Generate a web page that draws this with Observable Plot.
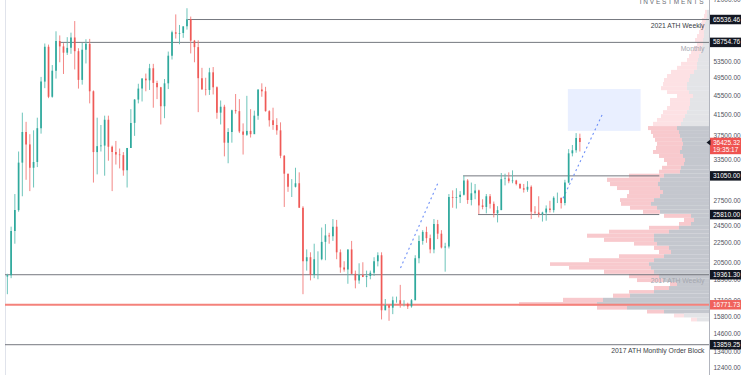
<!DOCTYPE html>
<html><head><meta charset="utf-8">
<script src="https://cdn.jsdelivr.net/npm/d3@7"></script>
<script src="https://cdn.jsdelivr.net/npm/@observablehq/plot@0.6"></script>
<style>
html,body{margin:0;padding:0;background:#fff;}
#wrap{position:relative;width:750px;height:375px;overflow:hidden;font-family:"Liberation Sans",Arial,sans-serif;}
#wrap svg{position:absolute;left:0;top:0;}
</style></head><body><div id="wrap"></div>
<script>
// ---- weekly BTC/USD candles (thousand USD), weeks starting Monday 2020-12-07 .. 2023-11-13
const weekStart = d3.utcMonday.range(new Date("2020-12-07"), new Date("2023-11-14"));
const open = [19.15,19.27,23.8,26.3, 33.0,38.2,36.0,32.2, 33.1,38.9,48.6,57.4, 45.2,51.2,59.0,57.5,55.8, 57.1,60.0,56.2,49.0, 56.6,58.2,46.4,34.7,35.7, 35.8,40.5,35.6,34.7, 34.3,34.2,31.8,35.4, 39.9,44.6,47.0,49.3,48.9, 51.8,48.3,47.3,43.2, 48.2,55.0,61.5,61.1, 61.3,63.3,65.5,59.1,57.3, 49.4,46.8,46.7,50.8,
 47.3,41.9,43.1,36.3,38.2, 42.4,42.2,38.3,37.7, 38.4,37.8,41.3,46.8, 46.4,42.2,40.4,39.5, 38.5,34.1,31.3,29.4,29.4, 29.9,26.6,20.6,21.0, 19.3,20.8,20.8,22.6, 23.3,23.2,24.3,21.5,20.0, 19.8,21.8,19.4,18.8, 19.3,19.1,19.2,19.5,20.6, 21.2,16.3,16.7,16.5, 17.1,17.1,16.8,16.8,
 16.6,17.1,20.9,22.7,23.7, 23.0,21.8,24.6,23.5, 22.0,22.1,28.0,27.9, 28.0,28.3,30.3,27.6, 28.5,28.9,26.9,26.7,28.1, 27.1,25.9,26.3,30.5, 30.6,30.2,30.3,29.8,29.2, 29.0,29.4,26.1,26.0, 25.8,26.0,26.5,26.3, 27.9,27.9,27.2,30.0,34.5, 35.0,37.1];
const high = [19.4,24.3,28.4,34.8, 41.9,40.1,37.8,38.5, 40.9,49.7,58.3,58.0, 52.6,61.8,60.6,58.4,60.1, 61.4,64.9,57.0,58.5, 59.5,59.6,46.6,40.9,39.5, 41.3,41.3,35.8,36.6, 35.3,34.7,35.4,42.6, 44.7,48.1,49.4,50.5,52.9, 52.9,48.8,47.4,49.2, 56.1,62.0,67.0,63.7, 63.2,69.0,66.3,59.3,59.2, 51.9,49.5,51.9,52.1,
 47.5,44.4,43.5,38.9,42.5, 45.8,44.7,39.8,45.4, 42.6,42.3,46.8,48.2, 47.4,42.4,42.9,40.8, 40.0,34.2,31.3,30.5,32.2, 31.5,26.8,21.8,21.5, 22.4,21.6,24.2,24.6, 23.6,25.2,25.1,21.8,20.6, 21.8,22.7,19.7,20.4, 20.5,19.7,19.7,21.0,21.5, 21.5,17.2,16.8,17.4, 17.4,18.4,17.1,16.9,
 17.2,21.2,23.3,23.9,24.3, 23.4,25.2,25.1,23.9, 22.5,28.4,28.9,29.2, 28.8,31.0,30.5,30.0, 29.8,29.0,27.7,28.4,28.4, 27.4,26.8,31.4,31.3, 31.5,31.8,30.4,29.9,29.8, 30.2,29.6,26.8,28.1, 26.1,26.9,27.5,28.1, 28.6,27.9,30.4,35.2,35.9, 38.0,37.9];
const low = [17.6,19.0,22.4,26.1, 28.1,30.4,28.8,29.3, 32.3,37.9,47.1,44.9, 45.0,49.3,53.3,50.4,55.2, 55.5,51.5,47.0,47.9, 53.0,43.8,30.0,31.2,34.8, 31.0,33.3,28.8,32.7, 32.1,31.0,29.3,35.4, 37.5,43.8,44.2,46.4,46.7, 42.9,44.7,39.6,40.8, 46.9,54.0,59.7,58.1, 59.9,62.3,55.6,53.3,42.0, 46.8,45.5,45.6,45.7,
 40.7,39.6,34.0,32.9,36.3, 41.7,38.0,34.3,37.5, 37.2,38.2,40.5,45.2, 42.1,39.2,38.6,37.7, 33.7,26.7,28.7,28.0,29.3, 26.6,17.6,19.7,18.8, 19.0,18.9,20.7,20.7, 22.4,22.7,20.8,19.5,19.6, 18.5,19.4,18.1,18.5, 19.3,18.2,18.9,19.2,20.1, 15.6,16.3,15.5,16.0, 16.9,16.5,16.6,16.4,
 16.5,17.1,20.4,22.3,22.5, 21.4,21.4,22.9,21.9, 19.6,21.9,26.6,26.5, 27.2,28.2,27.1,26.9, 27.7,25.8,26.4,25.9,26.5, 25.4,24.8,26.3,29.6, 29.9,29.9,29.6,29.1,28.6, 28.7,25.2,25.8,25.4, 24.9,25.0,26.0,26.0, 27.2,26.5,26.9,29.9,34.0, 34.6,34.8];
const close = [19.27,23.8,26.3,33.0, 38.2,36.0,32.2,33.1, 38.9,48.6,57.4,45.2, 51.2,59.0,57.5,55.8,57.1, 60.0,56.2,49.0,56.6, 58.2,46.4,34.7,35.7,35.8, 40.5,35.6,34.7,34.3, 34.2,31.8,35.4,39.9, 44.6,47.0,49.3,48.9,51.8, 48.3,47.3,43.2,48.2, 55.0,61.5,61.1,61.3, 63.3,65.5,59.1,57.3,49.4, 46.8,46.7,50.8,47.3,
 41.9,43.1,36.3,38.2,42.4, 42.2,38.3,37.7,38.4, 37.8,41.3,46.8,46.4, 42.2,40.4,39.5,38.5, 34.1,31.3,29.4,29.4,29.9, 26.6,20.6,21.0,19.3, 20.8,20.8,22.6,23.3, 23.2,24.3,21.5,20.0,19.8, 21.8,19.4,18.8,19.3, 19.1,19.2,19.5,20.6,21.2, 16.3,16.7,16.5,17.1, 17.1,16.8,16.8,16.6,
 17.1,20.9,22.7,23.7,23.0, 21.8,24.6,23.5,22.0, 22.1,28.0,27.9,28.0, 28.3,30.3,27.6,28.5, 28.9,26.9,26.7,28.1,27.1, 25.9,26.3,30.5,30.6, 30.2,30.3,29.8,29.2,29.0, 29.4,26.1,26.0,25.8, 26.0,26.5,26.3,27.9, 27.9,27.2,30.0,34.5,35.0, 37.1,36.43];

// ---- visible range volume profile rows (price in thousand USD, volume in arbitrary units)
const profPrice = [67.8,66.5,65.2,64.0,62.8,61.6,60.4,59.3,58.2,57.1,56.0,54.9,53.9,52.9,51.9,50.9,49.9,49.0,48.0,47.1,46.2,45.4,44.5,43.7,42.8,42.0,41.2,40.5,39.7,38.9,38.2,37.5,36.8,36.1,35.4,34.7,34.1,33.4,32.8,32.2,31.6,31.0,30.4,29.8,29.2,28.7,28.1,27.6,27.1,26.6,26.1,25.6,25.1,24.6,24.2,23.7,23.3,22.8,22.4,22.0,21.5,21.1,20.7,20.3,20.0,19.6,19.2,18.8,18.5,18.1,17.8,17.5,17.1,16.8,16.5,16.2,15.9,15.6];
const profTotal = [4,5,7,8,9,10,12,14,12,15, 18,20,22,28,32,38,42,45,46,48, 42,32,39,39,42,46,48,52,56,61, 58,56,54,52,53,56,50,45,42,47, 50,80,102,99,92,80,82,89,88,79, 66,45,25,30,60,100,122,105,75,55, 50,90,120,159,140,105,80,72,39,55, 80,96,146,190,112,62,35,18];
const profGray = [2,2,3,4,4,5,5,6,6,7, 8,10,11,12,12,15,19,20,22,22, 20,16,19,19,20,22,24,26,28,32, 30,29,27,26,27,29,26,24,25,28, 29,45,49,51,49,46,49,55,58,52, 49,18,15,18,30,40,55,55,52,40, 38,45,55,60,58,55,50,46,32,40, 55,79,106,112,82,45,25,12];
const valueAreaTop = 38.9, valueAreaBottom = 16.0;

// ---- levels & annotations
const levelValue = [65536.46, 58754.76, 31050.00, 25810.00, 19361.30, 16771.73, 13859.25];
const levelFrom  = ["2021-11-14","2021-03-20","2023-04-13","2023-05-11","2020-12-07","2020-12-07","2020-12-07"];
const levelTo    = ["2024-07-16","2024-07-16","2024-04-14","2024-04-14","2024-07-16","2024-07-16","2024-07-16"];
const levelNote  = ["2021 ATH Weekly","Monthly","","","2017 ATH Weekly","","2017 ATH Monthly Order Block"];
const lastPrice = 36425.32, countdown = "19:35:17";
const tickValues = [72000,53500,49500,45500,41500,37500,33500,27500,24500,22500,20500,18900,17100,15800,14600,13400,12400];
const targetBox = {from:"2023-10-26", to:"2024-03-10", lo:38400, hi:46900};
const projFrom = ["2022-12-16","2023-10-16"], projFromP = [20000,27900];
const projTo   = ["2023-02-25","2023-12-30"], projToP   = [30200,42000];

// ---- build tables
const candles = weekStart.map((t,i)=>({t: d3.utcHour.offset(t,84), o:open[i]*1000, h:high[i]*1000, l:low[i]*1000, c:close[i]*1000}));
const up = candles.filter(d=>d.c>=d.o), dn = candles.filter(d=>d.c<d.o);
const n = profPrice.length;
const rows = profPrice.map((p,i)=>{
  const hi = i>0 ? Math.sqrt(p*profPrice[i-1]) : p*Math.sqrt(p/profPrice[i+1]);
  const lo = i<n-1 ? Math.sqrt(p*profPrice[i+1]) : p*Math.sqrt(p/profPrice[i-1]);
  return {hi:hi*1000, lo:lo*1000, total:profTotal[i], gray:profGray[i], va: p<=valueAreaTop && p>=valueAreaBottom};
});
const levels = levelValue.map((v,i)=>({v, from:new Date(levelFrom[i]), to:new Date(levelTo[i]), note:levelNote[i], red: v===16771.73}));
const projs = projFrom.map((d,i)=>({x1:new Date(d), y1:projFromP[i], x2:new Date(projTo[i]), y2:projToP[i]}));

const W=750, H=375, yDomain=[11963,71770];
const xDomain=[new Date("2020-12-07"), new Date("2024-07-16")];
const font = '"Liberation Sans", Arial, sans-serif';
const boxSym = (w,h)=>({draw(ctx){ctx.moveTo(-w/2,-h/2);ctx.lineTo(w/2,-h/2);ctx.lineTo(w/2,h/2);ctx.lineTo(-w/2,h/2);ctx.closePath();}});
const triSym = {draw(ctx){ctx.moveTo(-3,0);ctx.lineTo(1,-3);ctx.lineTo(1,3);ctx.closePath();}};

// profile (background layer)
const prof = Plot.plot({
  width:W, height:H, marginLeft:0, marginRight:41, marginTop:0, marginBottom:0,
  style:{background:"#fff", fontFamily:font},
  x:{domain:[709,0], axis:null},
  y:{type:"log", domain:yDomain, axis:null},
  marks:[
    Plot.rect(rows.filter(d=>d.va), {x1:d=>d.gray, x2:"total", y1:"lo", y2:"hi", fill:"#f8c9cd"}),
    Plot.rect(rows.filter(d=>!d.va), {x1:d=>d.gray, x2:"total", y1:"lo", y2:"hi", fill:"#fde1e4"}),
    Plot.rect(rows.filter(d=>d.va), {x1:0, x2:"gray", y1:"lo", y2:"hi", fill:"#c4c7ce"}),
    Plot.rect(rows.filter(d=>!d.va), {x1:0, x2:"gray", y1:"lo", y2:"hi", fill:"#e3e4e7"})
  ]
});

const main = Plot.plot({
  width:W, height:H, marginLeft:5, marginRight:41, marginTop:0, marginBottom:0,
  style:{background:"transparent", fontFamily:font, overflow:"visible"},
  x:{type:"utc", domain:xDomain, axis:null},
  y:{type:"log", domain:yDomain, axis:null},
  marks:[
    Plot.ruleX([xDomain[0]], {stroke:"#e0e3eb", strokeWidth:1}),
    Plot.rect([targetBox], {x1:d=>new Date(d.from), x2:d=>new Date(d.to), y1:"lo", y2:"hi", fill:"#2962ff", fillOpacity:0.1}),
    Plot.ruleY(levels.filter(d=>!d.red), {y:"v", x1:"from", x2:"to", stroke:"#75787f", strokeWidth:1}),
    Plot.ruleY(levels.filter(d=>d.red), {y:"v", x1:"from", x2:"to", stroke:"#f4827b", strokeWidth:2}),
    Plot.text(levels.filter(d=>d.note && (d.v>60000 || d.v<15000)), {y:"v", text:"note", frameAnchor:"right", dx:-5, dy:6.5, textAnchor:"end", fill:"#3a3d45", fontSize:6.8}),
    Plot.text(levels.filter(d=>d.note && d.v<60000 && d.v>15000), {y:"v", text:"note", frameAnchor:"right", dx:-5, dy:6.5, textAnchor:"end", fill:"#a4a7ae", fontSize:6.8}),
    Plot.link(projs, {x1:"x1", y1:"y1", x2:"x2", y2:"y2", stroke:"#6d8ff7", strokeWidth:1.1, strokeDasharray:"2,3"}),
    Plot.ruleX(up, {x:"t", y1:"l", y2:"h", stroke:"#5cbdb2", strokeWidth:0.9}),
    Plot.ruleX(dn, {x:"t", y1:"l", y2:"h", stroke:"#f27a78", strokeWidth:0.9}),
    Plot.ruleX(up, {x:"t", y1:"o", y2:"c", stroke:"#2fa99d", strokeWidth:1.7}),
    Plot.ruleX(dn, {x:"t", y1:"o", y2:"c", stroke:"#ef5a57", strokeWidth:1.7}),
    Plot.ruleX([xDomain[1]], {stroke:"#b2b5be", strokeWidth:1}),
    Plot.axisY(tickValues, {anchor:"right", tickSize:0, tickPadding:4, tickFormat:d=>d.toFixed(2), fontSize:6.5, color:"#50535e", label:null}),
    Plot.dot(levels.filter(d=>!d.red), {y:"v", frameAnchor:"right", dx:16, symbol:boxSym(31,9.5), fill:"#131722", r:3}),
    Plot.dot(levels.filter(d=>d.red), {y:"v", frameAnchor:"right", dx:16, symbol:boxSym(31,9.5), fill:"#f0625c", r:3}),
    Plot.text(levels, {y:"v", text:d=>d.v.toFixed(2), frameAnchor:"right", dx:3.5, textAnchor:"start", fill:"#fff", fontSize:6.5}),
    Plot.dot([lastPrice], {y:d=>d, frameAnchor:"right", dx:16, dy:3.5, symbol:boxSym(31,16.5), fill:"#ef5350", r:3}),
    Plot.dot([lastPrice], {y:d=>d, frameAnchor:"right", dx:0, symbol:triSym, fill:"#131722", r:3}),
    Plot.text([lastPrice], {y:d=>d, text:d=>d.toFixed(2), frameAnchor:"right", dx:3.5, textAnchor:"start", fill:"#fff", fontSize:6.5}),
    Plot.text([lastPrice], {y:d=>d, text:()=>countdown, frameAnchor:"right", dx:3.5, dy:7.5, textAnchor:"start", fill:"#fff", fontSize:6.5}),
    Plot.text(["I N V E S T M E N T S"], {frameAnchor:"top-right", dx:-6, dy:3, lineAnchor:"bottom", textAnchor:"end", fill:"#6a6d75", fontSize:6.5})
  ]
});

const wrap = document.getElementById("wrap");
wrap.appendChild(prof);
wrap.appendChild(main);
</script></body></html>
